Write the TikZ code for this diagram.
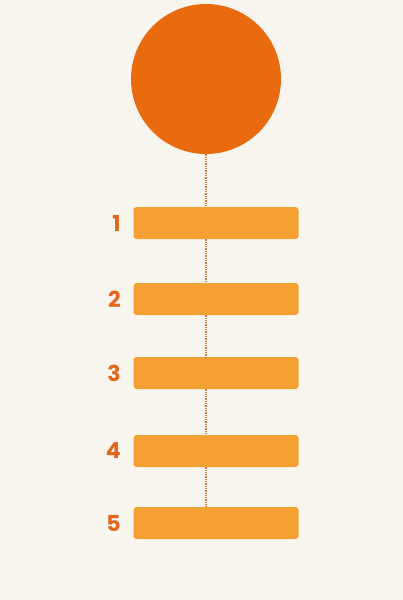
\documentclass[tikz,border=0pt]{standalone}
\usepackage{fontspec}
\setmainfont{Poppins}
\usepackage{tikz}
\usetikzlibrary{positioning}
\definecolor{bgcol}{HTML}{F8F5EE}
\definecolor{topcol}{HTML}{EA6A10}
\definecolor{barcol}{HTML}{F4A033}
\definecolor{numcol}{HTML}{E2661C}
\definecolor{linecol}{HTML}{C9793A}
\tikzstyle{top} = [circle, minimum size=150pt, inner sep=0pt, fill=topcol]
\tikzstyle{bar} = [rectangle, rounded corners=3pt, minimum width=165pt, minimum height=32pt, inner sep=0pt, fill=barcol]
\tikzstyle{num} = [text=numcol, font=\fontsize{22}{22}\selectfont\bfseries, anchor=center]
\tikzstyle{link} = [linecol, line width=1.1pt, dash pattern=on 1.3pt off 1pt]

\begin{document}
\begin{tikzpicture}[x=1pt, y=-1pt]
	\fill [bgcol] (0,0) rectangle (403,600);
	\useasboundingbox (0,0) rectangle (403,600);
	\node (circ) [top] at (206,79) {};
	\node (bar1) [bar] at (216,223) {};
	\node (bar2) [bar] at (216,299) {};
	\node (bar3) [bar] at (216,373) {};
	\node (bar4) [bar] at (216,451) {};
	\node (bar5) [bar] at (216,523) {};
	\node (n1) [num, left=9pt of bar1] {1};
	\node (n2) [num, left=9pt of bar2] {2};
	\node (n3) [num, left=9pt of bar3] {3};
	\node (n4) [num, left=9pt of bar4] {4};
	\node (n5) [num, left=9pt of bar5] {5};
	\draw [link] (circ.south) -- (circ.south |- bar1.north);
	\draw [link] (circ.south |- bar1.south) -- (circ.south |- bar2.north);
	\draw [link] (circ.south |- bar2.south) -- (circ.south |- bar3.north);
	\draw [link] (circ.south |- bar3.south) -- (circ.south |- bar4.north);
	\draw [link] (circ.south |- bar4.south) -- (circ.south |- bar5.north);
\end{tikzpicture}
\end{document}
